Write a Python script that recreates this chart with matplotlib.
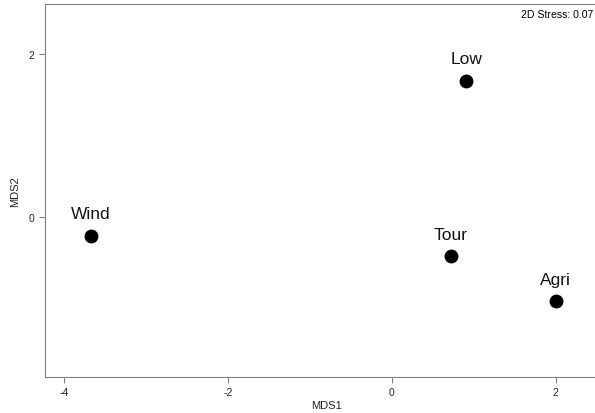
import matplotlib.pyplot as plt

plt.rcParams['font.family'] = ['Liberation Sans', 'DejaVu Sans']
plt.rcParams['axes.unicode_minus'] = False

# site scores from the NMDS
sites = ["Wind", "Low", "Tour", "Agri"]
mds1 = [-3.67, 0.91, 0.72, 2.00]
mds2 = [-0.23, 1.67, -0.48, -1.03]
stress = "2D Stress: 0.07"

fig = plt.figure(figsize=(5.95, 4.14), dpi=100)
ax = fig.add_axes([0.0756, 0.087, 0.945, 0.901])

ax.plot(mds1, mds2, "o", color="black", markersize=10, markeredgewidth=0, linestyle="none")
for name, x, y in zip(sites, mds1, mds2):
    ax.annotate(name, (x, y), xytext=(0, 12.5), textcoords="offset points",
                ha="center", va="baseline", fontsize=12.5, color="#111111")

ax.set_xlim(-4.23, 2.63)
ax.set_ylim(-1.96, 2.61)
ax.set_xticks([-4, -2, 0, 2])
ax.set_yticks([0, 2])
ax.tick_params(labelsize=7.5, length=4, color="#808080", width=0.8, labelcolor="#222222")
for side in ["left", "bottom", "top"]:
    ax.spines[side].set_color("#808080")
ax.spines["right"].set_visible(False)
ax.set_xlabel("MDS1", fontsize=8, labelpad=2, color="#222222")
ax.set_ylabel("MDS2", fontsize=8, labelpad=6, color="#222222")

# stress note in the top right corner, kept just inside the figure
fig.text(593 / 595, 1 - 15 / 414, stress, fontsize=7.6, ha="right", va="center")

fig.savefig("out.png", dpi=100)
